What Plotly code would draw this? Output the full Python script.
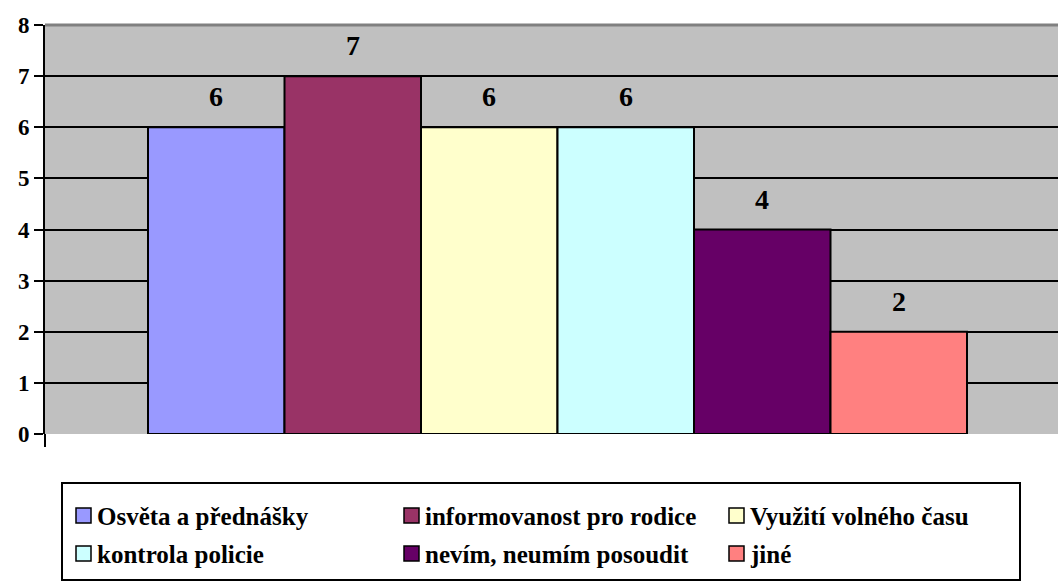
import plotly.graph_objects as go

series = ["Osvěta a přednášky", "informovanost pro rodice", "Využití volného času",
          "kontrola policie", "nevím, neumím posoudit", "jiné"]
values = [6, 7, 6, 6, 4, 2]
colors = ["#9999FF", "#993366", "#FFFFCC", "#CCFFFF", "#660066", "#FF8080"]
y_ticks = [0, 1, 2, 3, 4, 5, 6, 7, 8]

SERIF = "Liberation Serif"

# figure geometry in pixels, used to place the key below the plot
W, H = 1058, 586
ML, MR, MT, MB = 45, 0, 25, 152
PW, PH = W - ML - MR, H - MT - MB


def px_x(px):
    return (px - ML) / PW


def px_y(py):
    return (H - MB - py) / PH


fig = go.Figure()
for i, (name, v, c) in enumerate(zip(series, values, colors)):
    fig.add_trace(go.Bar(
        x=[i], y=[v], name=name, width=1, showlegend=False,
        marker=dict(color=c, line=dict(color="black", width=2)),
    ))
    fig.add_annotation(
        x=i, y=v, text=f"<b>{v}</b>", showarrow=False,
        yanchor="bottom", yshift=13,
        font=dict(family=SERIF, size=28, color="black"),
    )

# plot frame top edge in grey
fig.add_shape(type="line", xref="paper", x0=0, x1=1, yref="paper", y0=1, y1=1,
              line=dict(color="#808080", width=3), layer="above")
# small category tick below the origin
fig.add_shape(type="line", xref="paper", x0=0, x1=0, yref="paper",
              y0=0, y1=px_y(447), line=dict(color="black", width=2))

# key: framed box, three columns by two rows
fig.add_shape(type="rect", xref="paper", yref="paper",
              x0=px_x(62), x1=px_x(1020), y0=px_y(483), y1=px_y(580),
              line=dict(color="black", width=2), fillcolor="white", layer="below")
text_left = [97, 425, 750]
row_mid = [515, 553]
for i, (name, c) in enumerate(zip(series, colors)):
    tx = text_left[i % 3]
    ty = row_mid[i // 3]
    fig.add_shape(type="rect", xref="paper", yref="paper",
                  x0=px_x(tx - 21), x1=px_x(tx - 6),
                  y0=px_y(ty - 7), y1=px_y(ty + 8),
                  line=dict(color="black", width=1.5), fillcolor=c)
    fig.add_annotation(
        xref="paper", yref="paper", x=px_x(tx - 2), y=px_y(ty + 1),
        xanchor="left", yanchor="middle", showarrow=False,
        text=f"<b>{name}</b>",
        font=dict(family=SERIF, size=25, color="black"),
    )

fig.update_layout(
    template="none",
    width=W, height=H,
    margin=dict(l=ML, r=MR, t=MT, b=MB),
    paper_bgcolor="white",
    plot_bgcolor="#C0C0C0",
    barmode="overlay",
    font=dict(family=SERIF, color="black"),
    showlegend=False,
    xaxis=dict(
        range=[-1.2546, 6.1667], showgrid=False, zeroline=False,
        showticklabels=False, ticks="", showline=False,
    ),
    yaxis=dict(
        range=[0, 8], tickvals=y_ticks,
        ticktext=[f"<b>{t}</b>" for t in y_ticks],
        ticks="outside", ticklen=9, tickwidth=2, tickcolor="black",
        showgrid=True, gridcolor="black", gridwidth=2,
        zeroline=False, showline=True, linecolor="black", linewidth=2,
        tickfont=dict(family=SERIF, size=23, color="black"),
    ),
)

fig.write_html("out.html")
